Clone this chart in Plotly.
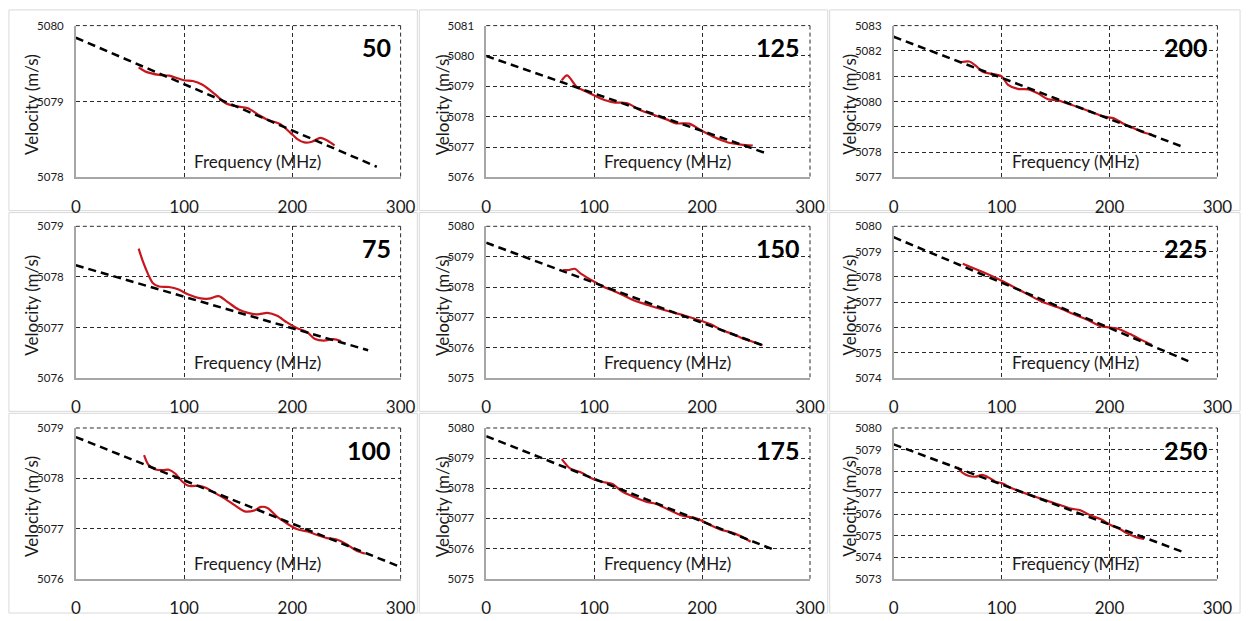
import plotly.graph_objects as go

# ---------------- data ----------------
panel_labels = ["50", "125", "200", "75", "150", "225", "100", "175", "250"]

x_ticks = [0, 100, 200, 300]

y_range_50 = [5078, 5080]
y_range_125 = [5076, 5081]
y_range_200 = [5077, 5083]
y_range_75 = [5076, 5079]
y_range_150 = [5075, 5080]
y_range_225 = [5074, 5080]
y_range_100 = [5076, 5079]
y_range_175 = [5075, 5080]
y_range_250 = [5073, 5080]

# measured velocity (red)
freq_50 = [58, 65, 77, 86, 100, 108, 117, 129, 138, 147, 159, 168, 177, 189, 198, 205, 211, 218, 226, 233, 239]
vel_50 = [5079.45, 5079.39, 5079.35, 5079.34, 5079.28, 5079.27, 5079.22, 5079.09, 5078.98, 5078.94, 5078.91,
          5078.83, 5078.76, 5078.70, 5078.59, 5078.50, 5078.46, 5078.47, 5078.52, 5078.48, 5078.42]

freq_125 = [70, 75, 84, 94, 106, 118, 130, 142, 154, 167, 176, 188, 200, 212, 224, 236, 247]
vel_125 = [5079.20, 5079.36, 5078.98, 5078.80, 5078.60, 5078.47, 5078.45, 5078.23, 5078.07, 5077.91,
           5077.78, 5077.77, 5077.53, 5077.31, 5077.15, 5077.08, 5077.05]

freq_200 = [62, 70, 76, 82, 91, 100, 106, 115, 125, 134, 143, 152, 161, 170, 182, 195, 204, 213, 222, 231, 239]
vel_200 = [5081.55, 5081.58, 5081.42, 5081.18, 5081.09, 5080.99, 5080.66, 5080.50, 5080.48, 5080.31, 5080.09,
           5080.05, 5079.92, 5079.79, 5079.60, 5079.40, 5079.34, 5079.12, 5078.95, 5078.78, 5078.69]

freq_75 = [58, 62, 67, 71, 77, 86, 95, 104, 114, 123, 132, 141, 150, 159, 168, 177, 186, 195, 204, 214, 221,
           229, 238, 245]
vel_75 = [5078.56, 5078.30, 5078.04, 5077.88, 5077.81, 5077.80, 5077.75, 5077.65, 5077.58, 5077.57, 5077.62,
          5077.49, 5077.36, 5077.29, 5077.26, 5077.29, 5077.23, 5077.10, 5076.99, 5076.90, 5076.77, 5076.74,
          5076.77, 5076.73]

freq_150 = [71, 76, 82, 88, 94, 101, 109, 118, 127, 136, 145, 155, 164, 173, 182, 191, 200, 209, 218, 227,
            236, 245, 256]
vel_150 = [5078.56, 5078.56, 5078.60, 5078.43, 5078.30, 5078.16, 5078.00, 5077.87, 5077.73, 5077.57, 5077.46,
           5077.35, 5077.25, 5077.16, 5077.08, 5076.98, 5076.87, 5076.76, 5076.58, 5076.47, 5076.33, 5076.22,
           5076.08]

freq_225 = [64, 82, 100, 118, 137, 152, 167, 180, 191, 200, 207, 219, 231, 239]
vel_225 = [5078.52, 5078.20, 5077.85, 5077.45, 5077.03, 5076.80, 5076.52, 5076.30, 5076.06, 5076.00, 5075.96,
           5075.74, 5075.48, 5075.32]

freq_100 = [63, 67, 73, 80, 86, 92, 98, 104, 114, 120, 129, 138, 147, 156, 165, 171, 177, 186, 195, 204, 214,
            223, 232, 241, 250, 259, 267]
vel_100 = [5078.46, 5078.27, 5078.18, 5078.16, 5078.17, 5078.09, 5077.94, 5077.85, 5077.85, 5077.81, 5077.70,
           5077.59, 5077.46, 5077.34, 5077.36, 5077.43, 5077.41, 5077.23, 5077.10, 5076.99, 5076.94, 5076.87,
           5076.81, 5076.78, 5076.69, 5076.56, 5076.50]

freq_175 = [70, 78, 87, 100, 108, 117, 126, 136, 148, 157, 169, 181, 193, 200, 209, 218, 227, 236, 245]
vel_175 = [5078.97, 5078.65, 5078.54, 5078.29, 5078.21, 5078.14, 5077.89, 5077.73, 5077.56, 5077.49, 5077.29,
           5077.10, 5077.02, 5076.92, 5076.76, 5076.62, 5076.54, 5076.41, 5076.23]

freq_250 = [59, 64, 70, 76, 82, 88, 94, 101, 109, 119, 128, 137, 146, 155, 164, 173, 182, 192, 201, 210, 216,
            224, 232]
vel_250 = [5078.18, 5077.92, 5077.77, 5077.74, 5077.82, 5077.70, 5077.52, 5077.42, 5077.21, 5077.02, 5076.86,
           5076.71, 5076.56, 5076.41, 5076.26, 5076.18, 5075.95, 5075.76, 5075.50, 5075.30, 5075.12, 5074.94,
           5074.85]

# linear fits (black dashed): end points
fit_x_50, fit_y_50 = [0, 278], [5079.84, 5078.14]
fit_x_125, fit_y_125 = [0, 259], [5080.00, 5076.80]
fit_x_200, fit_y_200 = [0, 270], [5082.56, 5078.17]
fit_x_75, fit_y_75 = [0, 270], [5078.23, 5076.55]
fit_x_150, fit_y_150 = [0, 256], [5079.46, 5076.08]
fit_x_225, fit_y_225 = [0, 273], [5079.57, 5074.67]
fit_x_100, fit_y_100 = [0, 297], [5078.82, 5076.26]
fit_x_175, fit_y_175 = [0, 268], [5079.73, 5075.94]
fit_x_250, fit_y_250 = [0, 270], [5079.24, 5074.21]

# ---------------- assembly ----------------
panels = [
    (freq_50, vel_50, fit_x_50, fit_y_50, y_range_50),
    (freq_125, vel_125, fit_x_125, fit_y_125, y_range_125),
    (freq_200, vel_200, fit_x_200, fit_y_200, y_range_200),
    (freq_75, vel_75, fit_x_75, fit_y_75, y_range_75),
    (freq_150, vel_150, fit_x_150, fit_y_150, y_range_150),
    (freq_225, vel_225, fit_x_225, fit_y_225, y_range_225),
    (freq_100, vel_100, fit_x_100, fit_y_100, y_range_100),
    (freq_175, vel_175, fit_x_175, fit_y_175, y_range_175),
    (freq_250, vel_250, fit_x_250, fit_y_250, y_range_250),
]

W, H = 1259, 621
cols = [(72, 402), (489, 818), (903, 1232)]
rows = [(19, 174), (224, 379), (430, 584)]
panel_cols = [(4, 419), (421, 836), (838, 1255)]
panel_rows = [(3, 208), (210, 413), (415, 619)]

FONT = "Lato, Carlito, Calibri, 'Open Sans', sans-serif"
GRID = "#2a2a2a"
GRID_DASH = "4px,3px"

def px(x):
    return x / W

def py(y):
    return 1 - y / H

fig = go.Figure()
layout = dict(
    width=W, height=H, margin=dict(l=0, r=0, t=0, b=0),
    paper_bgcolor="white", plot_bgcolor="white", showlegend=False,
    font=dict(family=FONT, color="#000000"),
)
annotations = []
shapes = []

for i, (fx, fv, lx, ly, yr) in enumerate(panels):
    r, c = divmod(i, 3)
    x0, x1 = cols[c]
    y0, y1 = rows[r]
    n = "" if i == 0 else str(i + 1)
    xa, ya = "x" + n, "y" + n

    fig.add_trace(go.Scatter(x=fx, y=fv, mode="lines", xaxis=xa, yaxis=ya,
                             line=dict(color="#c8161d", width=2.2, shape="spline", smoothing=0.8)))
    fig.add_trace(go.Scatter(x=lx, y=ly, mode="lines", xaxis=xa, yaxis=ya,
                             line=dict(color="#000000", width=2.5, dash="8px,5px")))

    layout["xaxis" + n] = dict(
        domain=[px(x0), px(x1)], range=[0, 300], anchor=ya,
        tickvals=x_ticks, ticks="outside", ticklen=13, tickcolor="rgba(0,0,0,0)",
        tickfont=dict(size=17, family=FONT, color="#1a1a1a"),
        showgrid=True, gridcolor=GRID, griddash=GRID_DASH, gridwidth=1,
        showline=True, linecolor="#a6a6a6", linewidth=1.5, zeroline=False,
    )
    layout["yaxis" + n] = dict(
        domain=[py(y1), py(y0)], range=yr, anchor=xa, dtick=1,
        ticks="outside", ticklen=8, tickcolor="rgba(0,0,0,0)",
        tickfont=dict(size=11.5, family=FONT, color="#1a1a1a"),
        showgrid=True, gridcolor=GRID, griddash=GRID_DASH, gridwidth=1,
        showline=True, linecolor="#a6a6a6", linewidth=1.5, zeroline=False,
    )

    # panel frame
    pc, pr = panel_cols[c], panel_rows[r]
    shapes.append(dict(type="rect", xref="paper", yref="paper",
                       x0=px(pc[0]), x1=px(pc[1]), y0=py(pr[1]), y1=py(pr[0]),
                       line=dict(color="#d9d9d9", width=1), layer="below"))
    # top and right gridline edges (dashed)
    shapes.append(dict(type="line", xref="paper", yref="paper", x0=px(x0), x1=px(x1), y0=py(y0), y1=py(y0),
                       line=dict(color=GRID, width=1, dash=GRID_DASH), layer="below"))
    shapes.append(dict(type="line", xref="paper", yref="paper", x0=px(x1), x1=px(x1), y0=py(y0), y1=py(y1),
                       line=dict(color=GRID, width=1, dash=GRID_DASH), layer="below"))

    annotations.append(dict(text="Velocity (m/s)", xref="paper", yref="paper",
                            x=px(x0 - 45), y=py((y0 + y1) / 2 + 3), textangle=-90,
                            showarrow=False, font=dict(size=17, family=FONT, color="#1a1a1a"),
                            xanchor="center", yanchor="middle"))
    annotations.append(dict(text="Frequency (MHz)", xref="paper", yref="paper",
                            x=px((x0 + x1) / 2 + 20), y=py(y1 - 16), showarrow=False,
                            font=dict(size=17, family=FONT, color="#1a1a1a"),
                            xanchor="center", yanchor="middle"))
    annotations.append(dict(text="<b>" + panel_labels[i] + "</b>", xref="paper", yref="paper",
                            x=px(x1 - 8), y=py(y0 + 22), showarrow=False,
                            font=dict(size=25, family=FONT, color="#000000"),
                            xanchor="right", yanchor="middle"))

layout["annotations"] = annotations
layout["shapes"] = shapes
fig.update_layout(**layout)
fig.write_html("out.html")
